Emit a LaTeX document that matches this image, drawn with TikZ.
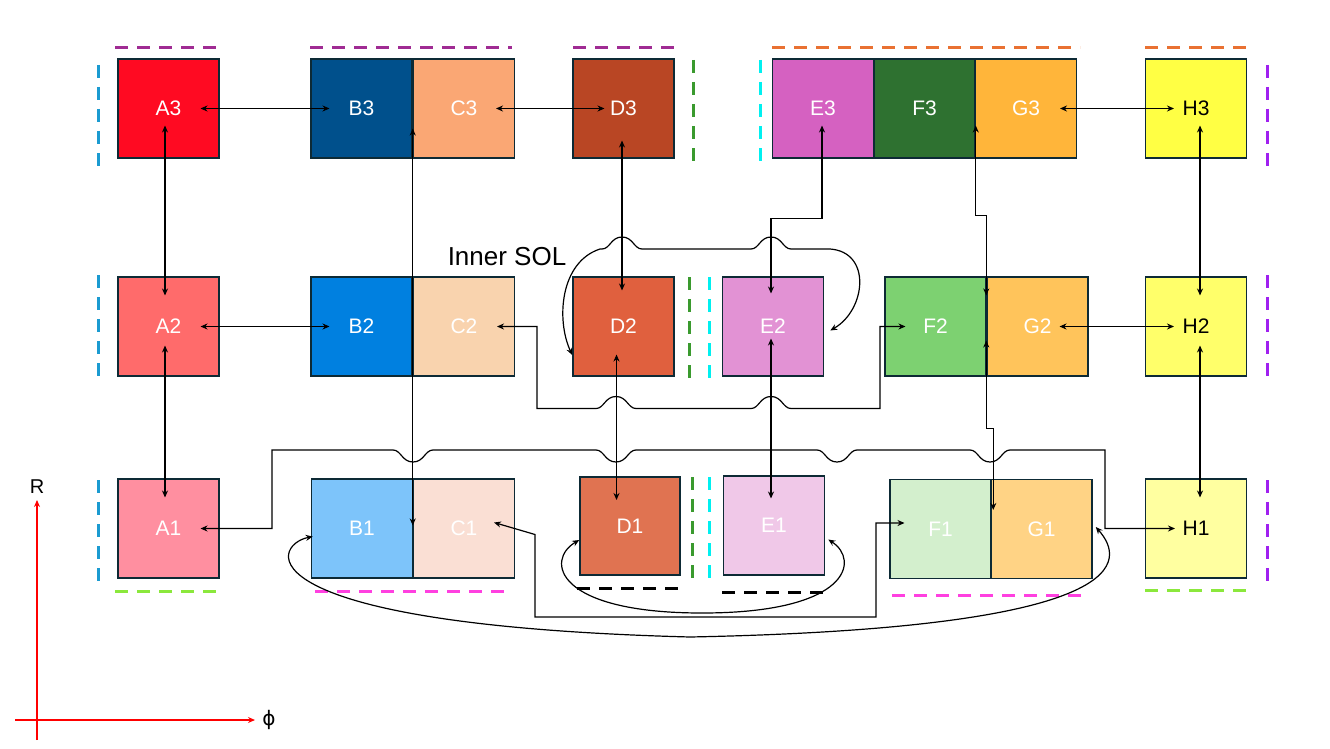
\documentclass[tikz,border=0pt]{standalone}
\usepackage{fontspec}
\setmainfont{Liberation Sans}
\newfontfamily\djv{DejaVu Sans}
\usetikzlibrary{arrows.meta}
\definecolor{dk}{HTML}{0D2A35}
\definecolor{cA3}{HTML}{FF0A22}\definecolor{cB3}{HTML}{00508C}\definecolor{cC3}{HTML}{FAA774}
\definecolor{cD3}{HTML}{B94624}\definecolor{cE3}{HTML}{D561C1}\definecolor{cF3}{HTML}{2E7130}
\definecolor{cG3}{HTML}{FFB53A}\definecolor{cH3}{HTML}{FFFF44}
\definecolor{cA2}{HTML}{FF6B6B}\definecolor{cB2}{HTML}{0080E0}\definecolor{cC2}{HTML}{F9D3AE}
\definecolor{cD2}{HTML}{E0603E}\definecolor{cE2}{HTML}{E292D4}\definecolor{cF2}{HTML}{7DD171}
\definecolor{cG2}{HTML}{FFC45B}\definecolor{cH2}{HTML}{FFFF6A}
\definecolor{cA1}{HTML}{FF8FA0}\definecolor{cB1}{HTML}{7DC4FA}\definecolor{cC1}{HTML}{FADFD4}
\definecolor{cD1}{HTML}{E07351}\definecolor{cE1}{HTML}{F0C8E8}\definecolor{cF1}{HTML}{D3EFCD}
\definecolor{cG1}{HTML}{FFD385}\definecolor{cH1}{HTML}{FFFFA0}
\definecolor{mpur}{HTML}{A02B93}\definecolor{mora}{HTML}{E97132}\definecolor{mblu}{HTML}{1B9BD1}
\definecolor{mgrn}{HTML}{3A9A2E}\definecolor{mcya}{HTML}{00F0F0}\definecolor{mvio}{HTML}{A020F0}
\definecolor{mlgr}{HTML}{8BE83C}\definecolor{mpnk}{HTML}{FF40E0}
\begin{document}
\begin{tikzpicture}[x=1pt,y=-1pt,
  box/.style={draw=dk,line width=1.5pt,minimum width=101pt,minimum height=99pt,inner sep=0pt,text=white,font=\fontsize{21}{21}\selectfont},
  conn/.style={line width=1.2pt,{Stealth[length=7pt,width=6pt]}-{Stealth[length=7pt,width=6pt]}},
  pl/.style={line width=1.2pt},
  mk/.style={line width=3pt,dash pattern=on 13pt off 9pt},
  hopU/.style args={#1/#2}{insert path={-- (#1-20,#2) .. controls (#1-12,#2) and (#1-11,#2-12) .. (#1,#2-12) .. controls (#1+11,#2-12) and (#1+12,#2) .. (#1+20,#2)}},
  hopD/.style args={#1/#2}{insert path={-- (#1-20,#2) .. controls (#1-12,#2) and (#1-11,#2+12) .. (#1,#2+12) .. controls (#1+11,#2+12) and (#1+12,#2) .. (#1+20,#2)}}]
\useasboundingbox (0,0) rectangle (1330,749);
% boxes
\node[box,fill=cA3] (A3) at (168.5,108.5) {A3};
\node[box,fill=cB3] (B3) at (361.5,108.5) {B3};
\node[box,fill=cC3] (C3) at (464,108.5) {C3};
\node[box,fill=cD3] (D3) at (623.5,108.5) {D3};
\node[box,fill=cE3] (E3) at (823,108.5) {E3};
\node[box,fill=cF3] (F3) at (924.5,108.5) {F3};
\node[box,fill=cG3] (G3) at (1026,108.5) {G3};
\node[box,fill=cH3,text=black] (H3) at (1196,108.5) {H3};
\node[box,fill=cA2] (A2) at (168.5,326.5) {A2};
\node[box,fill=cB2] (B2) at (361.5,326.5) {B2};
\node[box,fill=cC2] (C2) at (464,326.5) {C2};
\node[box,fill=cD2] (D2) at (623.5,326.5) {D2};
\node[box,fill=cE2] (E2) at (773,326.5) {E2};
\node[box,fill=cF2] (F2) at (935.5,326.5) {F2};
\node[box,fill=cG2] (G2) at (1037.5,326.5) {G2};
\node[box,fill=cH2,text=black] (H2) at (1196,326.5) {H2};
\node[box,fill=cA1] (A1) at (168.5,528.5) {A1};
\node[box,fill=cB1] (B1) at (362,528.5) {B1};
\node[box,fill=cC1] (C1) at (464,528.5) {C1};
\node[box,fill=cD1,minimum width=100pt,minimum height=98pt] (D1) at (630,526) {D1};
\node[box,fill=cE1,minimum height=99pt] (E1) at (774,525.5) {E1};
\node[box,fill=cF1] (F1) at (940.5,529) {F1};
\node[box,fill=cG1] (G1) at (1041.5,529) {G1};
\node[box,fill=cH1,text=black] (H1) at (1196,528.5) {H1};
% markers
\draw[mk,mpur] (115,48) -- (218,48);
\draw[mk,mpur] (310,48) -- (512,48);
\draw[mk,mpur] (573,48) -- (680,48);
\draw[mk,mora] (772,48) -- (1080,48);
\draw[mk,mora] (1145,48) -- (1250,48);
\draw[mk,mblu] (98,65) -- (98,168);
\draw[mk,mblu] (98,275) -- (98,378);
\draw[mk,mblu] (98,480) -- (98,583);
\draw[mk,mgrn] (693,60) -- (693,163);
\draw[mk,mcya] (760,60) -- (760,163);
\draw[mk,mgrn] (689,277) -- (689,380);
\draw[mk,mcya] (709,277) -- (709,380);
\draw[mk,mgrn] (692,477) -- (692,578);
\draw[mk,mcya] (709,477) -- (709,578);
\draw[mk,mvio] (1267,65) -- (1267,168);
\draw[mk,mvio] (1267,275) -- (1267,378);
\draw[mk,mvio] (1267,480) -- (1267,583);
\draw[mk,mlgr] (115,591) -- (218,591);
\draw[mk,mpnk] (315,591) -- (512,591);
\draw[mk,black] (577,588) -- (684,588);
\draw[mk,black] (722,592) -- (830,592);
\draw[mk,mpnk] (892,595) -- (1090,595);
\draw[mk,mlgr] (1145,590) -- (1250,590);
% connectors
\draw[conn] ([xshift=32]A3.center) -- ([xshift=-32]B3.center);
\draw[conn] ([xshift=32]C3.center) -- ([xshift=-19]D3.center);
\draw[conn] ([xshift=34]G3.center) -- ([xshift=-22]H3.center);
\draw[conn] ([xshift=-3.5,yshift=-17]A3.center) -- ([xshift=-3.5,yshift=31]A2.center);
\draw[conn] ([xshift=-3.5,yshift=-19]A2.center) -- ([xshift=-3.5,yshift=31]A1.center);
\draw[conn] ([xshift=32]A2.center) -- ([xshift=-32]B2.center);
\draw[conn] ([xshift=4,yshift=-17]H3.center) -- ([xshift=4,yshift=31]H2.center);
\draw[conn] ([xshift=4,yshift=-19]H2.center) -- ([xshift=4,yshift=31]H1.center);
\draw[conn] ([xshift=22]G2.center) -- ([xshift=-22]H2.center);
\draw[conn] ([yshift=-20]B3.east) -- ([xshift=-0.5,yshift=3]B1.east);
\draw[conn] ([xshift=-1.5,yshift=-32]D3.center) -- ([xshift=-1.5,yshift=36]D2.center);
\draw[conn] ([xshift=-7,yshift=-28]D2.center) -- ([xshift=-13.5,yshift=26]D1.center);
\draw[conn] ([xshift=-1,yshift=-17]E3.center) -- ++(0,93) -| ([xshift=-2,yshift=33]E2.center);
\draw[conn] ([xshift=-2,yshift=-12]E2.center) -- ([xshift=-3,yshift=27]E1.center);
\draw[conn] ([yshift=-17]F3.east) -- ++(0,90) -| ([yshift=31]G2.west);
\draw[conn] ([yshift=-14]G2.west) -- ++(0,88) -| ([xshift=3,yshift=19]G1.west);
% C2 - F2
\draw[conn] ([xshift=33]C2.center) -- (537,326.5) -- (537,408.5) [hopU=616/408.5] [hopU=771/408.5] -- (880,408.5) |- ([xshift=-30]F2.center);
% A1 - H1
\draw[conn] ([xshift=32]A1.center) -- (272,528.5) -- (272,450) [hopD=413/450] [hopD=616/450] [hopD=837/450] [hopD=990/450] -- (1105,450) -- (1105,528.5) -- ([xshift=-21]H1.center);
% Inner SOL loop
\draw[conn] ([yshift=-28.5]D2.west) .. controls (556,320) and (560,262) .. (600,249) [hopU=622/249] [hopU=771/249] -- (830,249) .. controls (872,252) and (866,310) .. ([xshift=6,yshift=-4]E2.east);
% C1 - F1
\draw[conn] ([xshift=30,yshift=6]C1.center) -- (535,534.5) -- (535,617) -- (876,617) |- ([xshift=-36,yshift=6]F1.center);
% B1 - G1
\draw[conn] ([xshift=2,yshift=-8]B1.west) .. controls (270,545) and (240,625) .. (690,637) .. controls (1140,628) and (1125,560) .. ([xshift=3,yshift=2]G1.east);
% D1 - E1
\draw[conn] ([yshift=-14]D1.west) .. controls (545,560) and (555,613) .. (702,613) .. controls (850,613) and (860,560) .. ([xshift=3,yshift=-14]E1.east);
\node[font=\fontsize{26}{26}\selectfont,inner sep=0pt] (isol) at (507,257) {Inner SOL};
% axes
\coordinate (o1) at (37,740); \coordinate (o2) at (37,500);
\coordinate (o3) at (15,720); \coordinate (o4) at (255,720);
\draw[red,line width=1.2pt,-{Stealth[length=7pt,width=6pt]}] (o1) -- (o2);
\draw[red,line width=1.2pt,-{Stealth[length=7pt,width=6pt]}] (o3) -- (o4);
\node[font=\fontsize{20}{20}\selectfont] (R) at (37,487) {R};
\node[font=\djv\fontsize{20}{20}\selectfont] (phi) at (269,720) {ϕ};
\end{tikzpicture}
\end{document}
